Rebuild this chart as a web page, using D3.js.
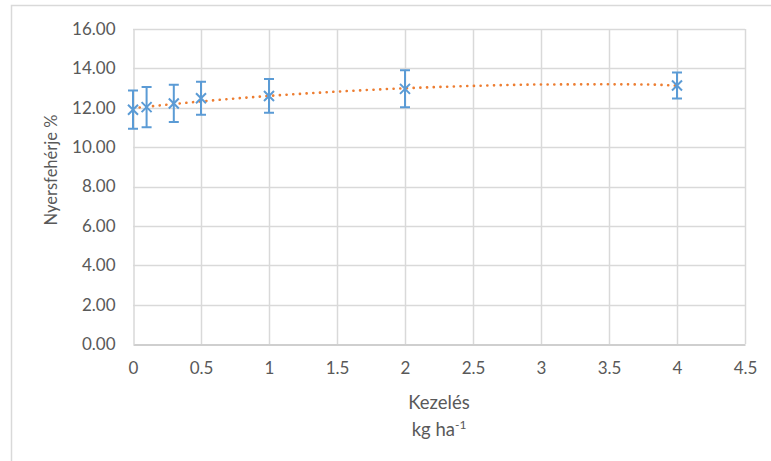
<!DOCTYPE html>
<html>
<head>
<meta charset="utf-8">
<script src="https://cdnjs.cloudflare.com/ajax/libs/d3/7.8.5/d3.min.js"></script>
<style>
	body { margin: 0; background: #fff; }
	text { font-family: Lato, 'Open Sans', sans-serif; fill: #595959; }
</style>
</head>
<body>
<div id="chart"></div>
<script>
// data
var doses = [0, 0.1, 0.3, 0.5, 1, 2, 4],
		protein = [11.9, 12.03, 12.22, 12.48, 12.6, 12.96, 13.13],
		errors = [0.97, 1.02, 0.95, 0.84, 0.86, 0.94, 0.66]

// trendline
var trendX = [0, 0.5, 1, 1.5, 2, 2.5, 3, 3.5, 3.8, 4],
		trendY = [11.98, 12.32, 12.6, 12.82, 12.99, 13.11, 13.18, 13.19, 13.18, 13.12]

var xTicks = [0, 0.5, 1, 1.5, 2, 2.5, 3, 3.5, 4, 4.5],
		yTicks = [0, 2, 4, 6, 8, 10, 12, 14, 16]

var width = 771,
		height = 461,
		margin = { top: 29, right: 26, bottom: 117, left: 133 }

var vis = d3.select('#chart')
	.append('svg')
		.attr('width', width)
		.attr('height', height)

// outer frame (only left and top edges show)
vis.append('path')
	.attr('d', 'M11.5,' + height + 'V5.5H' + width)
	.attr('fill', 'none')
	.attr('stroke', '#d9d9d9')
	.attr('stroke-width', 1.5)

var x = d3.scaleLinear()
	.domain([0, 4.5])
	.range([margin.left, width - margin.right])

var y = d3.scaleLinear()
	.domain([0, 16])
	.range([height - margin.bottom, margin.top])

// grid
vis.append('g')
	.selectAll('line')
	.data(yTicks.slice(1)).enter()
	.append('line')
		.attr('x1', x(0))
		.attr('x2', x(4.5))
		.attr('y1', function(d) { return Math.round(y(d)) + 0.5 })
		.attr('y2', function(d) { return Math.round(y(d)) + 0.5 })
		.attr('stroke', '#d9d9d9')
		.attr('stroke-width', 1.5)

vis.append('g')
	.selectAll('line')
	.data(xTicks.slice(1)).enter()
	.append('line')
		.attr('x1', function(d) { return Math.round(x(d)) + 0.5 })
		.attr('x2', function(d) { return Math.round(x(d)) + 0.5 })
		.attr('y1', y(16))
		.attr('y2', y(0))
		.attr('stroke', '#d9d9d9')
		.attr('stroke-width', 1.5)

// axes
var xAxis = vis.append('g')
	.attr('transform', 'translate(0,' + (Math.round(y(0)) + 0.5) + ')')
	.call(d3.axisBottom(x).tickValues(xTicks).tickSize(0).tickPadding(17)
		.tickFormat(function(d) { return String(d) }))
xAxis.select('.domain').attr('stroke', '#bfbfbf').attr('stroke-width', 1.5)
xAxis.selectAll('text').style('font-size', '17px').attr('fill', '#595959')

var yAxis = vis.append('g')
	.attr('transform', 'translate(' + (Math.round(x(0)) + 0.5) + ',0)')
	.call(d3.axisLeft(y).tickValues(yTicks).tickSize(0).tickPadding(18)
		.tickFormat(d3.format('.2f')))
yAxis.select('.domain').attr('stroke', '#d9d9d9').attr('stroke-width', 1.5)
yAxis.selectAll('text').style('font-size', '17px').attr('fill', '#595959')

// trendline
var trend = d3.line()
	.x(function(d) { return x(d[0]) })
	.y(function(d) { return y(d[1]) })
	.curve(d3.curveMonotoneX)

vis.append('path')
	.datum(d3.zip(trendX, trendY))
	.attr('d', trend)
	.attr('fill', 'none')
	.attr('stroke', '#ed7d31')
	.attr('stroke-width', 2.6)
	.attr('stroke-linecap', 'round')
	.attr('stroke-dasharray', '0.1,6.6')

// error bars
var points = doses.map(function(d, i) {
	return { x: d, y: protein[i], e: errors[i] }
})

var bars = vis.append('g')
	.attr('stroke', '#5b9bd5')
	.attr('stroke-width', 2)
	.attr('fill', 'none')

bars.selectAll('path')
	.data(points).enter()
	.append('path')
		.attr('d', function(d) {
			var cx = x(d.x), t = y(d.y + d.e), b = y(d.y - d.e), w = 5
			return 'M' + cx + ',' + t + 'V' + b +
				'M' + (cx - w) + ',' + t + 'H' + (cx + w) +
				'M' + (cx - w) + ',' + b + 'H' + (cx + w)
		})

// x markers
vis.append('g')
	.selectAll('path')
	.data(points).enter()
	.append('path')
		.attr('d', function(d) {
			var cx = x(d.x), cy = y(d.y), s = 5
			return 'M' + (cx - s) + ',' + (cy - s) + 'L' + (cx + s) + ',' + (cy + s) +
				'M' + (cx - s) + ',' + (cy + s) + 'L' + (cx + s) + ',' + (cy - s)
		})
		.attr('stroke', '#5b9bd5')
		.attr('stroke-width', 2)

// titles
vis.append('text')
	.attr('transform', 'translate(57,170) rotate(-90)')
	.attr('text-anchor', 'middle')
	.style('font-size', '16.5px')
	.text('Nyersfehérje %')

var xTitle = vis.append('text')
	.attr('x', (x(0) + x(4.5)) / 2)
	.attr('y', 409)
	.attr('text-anchor', 'middle')
	.style('font-size', '18.5px')
	.text('Kezelés')

var unit = vis.append('text')
	.attr('x', (x(0) + x(4.5)) / 2)
	.attr('y', 436)
	.attr('text-anchor', 'middle')
	.style('font-size', '18.5px')
unit.append('tspan').text('kg ha')
unit.append('tspan').attr('dy', -7).style('font-size', '12px').text('-1')
</script>
</body>
</html>
